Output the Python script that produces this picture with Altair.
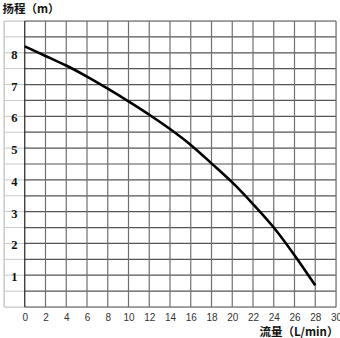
import altair as alt
import pandas as pd

# Data
flow = [0, 2, 4, 6, 8, 10, 12, 14, 16, 18, 20, 22, 24, 26, 28]
head = [8.2, 7.9, 7.6, 7.25, 6.87, 6.47, 6.05, 5.6, 5.1, 4.52, 3.92, 3.24, 2.5, 1.63, 0.68]

x_ticks = [0, 2, 4, 6, 8, 10, 12, 14, 16, 18, 20, 22, 24, 26, 28, 30]
y_labels = [1, 2, 3, 4, 5, 6, 7, 8]
h_levels = [0, 0.5, 1, 1.5, 2, 2.5, 3, 3.5, 4, 4.5, 5, 5.5, 6, 6.5, 7, 7.5, 8, 8.5, 9]

X_MIN, X_MAX = -2, 30
Y_MIN, Y_MAX = 0, 9

xs = alt.Scale(domain=[X_MIN, X_MAX], nice=False, zero=False)
ys = alt.Scale(domain=[Y_MIN, Y_MAX], nice=False, zero=False)

x_axis = alt.Axis(values=x_ticks, grid=False, domain=False, ticks=False,
                  labelFont="Liberation Sans", labelFontSize=10, labelColor="#333333",
                  labelPadding=5, labelFlush=False, labelOverlap=False,
                  title="流量（L/min）", titleFont="Noto Sans CJK SC",
                  titleFontSize=11.5, titleFontWeight="bold", titleColor="#111111",
                  titleAnchor="end", titleAlign="right", titleX=334, titleY=25,
                  titleBaseline="middle")

curve_df = pd.DataFrame({"flow": flow, "head": head})
hdf = pd.DataFrame({"y": h_levels, "x0": [X_MIN] * len(h_levels),
                    "xa": [0] * len(h_levels), "x1": [X_MAX] * len(h_levels)})
vdf = pd.DataFrame({"x": x_ticks[1:], "y0": [Y_MIN] * (len(x_ticks) - 1),
                    "y1": [Y_MAX] * (len(x_ticks) - 1)})
ldf = pd.DataFrame({"v": y_labels, "x": [-1] * len(y_labels)})
bdf = pd.DataFrame({"x": [X_MIN, 0], "y0": [Y_MIN, Y_MIN], "y1": [Y_MAX, Y_MAX],
                    "c": ["#c8c8c8", "#222222"]})

h_left = alt.Chart(hdf).mark_rule(color="#c8c8c8", strokeWidth=1).encode(
    x=alt.X("x0:Q", scale=xs, axis=x_axis), x2="xa:Q", y=alt.Y("y:Q", scale=ys, axis=None))
h_right = alt.Chart(hdf).mark_rule(color="#555555", strokeWidth=1.2).encode(
    x=alt.X("xa:Q", scale=xs, axis=x_axis), x2="x1:Q", y=alt.Y("y:Q", scale=ys, axis=None))
v_grid = alt.Chart(vdf).mark_rule(color="#707070", strokeWidth=1.2).encode(
    x=alt.X("x:Q", scale=xs, axis=x_axis), y=alt.Y("y0:Q", scale=ys, axis=None), y2="y1:Q")
borders = alt.Chart(bdf).mark_rule(strokeWidth=1.2).encode(
    x=alt.X("x:Q", scale=xs, axis=x_axis), y=alt.Y("y0:Q", scale=ys, axis=None), y2="y1:Q",
    color=alt.Color("c:N", scale=None))

curve = alt.Chart(curve_df).mark_line(color="#000000", strokeWidth=2.6, interpolate="monotone").encode(
    x=alt.X("flow:Q", scale=xs, axis=x_axis),
    y=alt.Y("head:Q", scale=ys, axis=None))

ylab = alt.Chart(ldf).mark_text(font="Liberation Serif", fontSize=12.5, fontWeight="bold",
                                color="#111111", dy=2).encode(
    x=alt.X("x:Q", scale=xs, axis=x_axis), y=alt.Y("v:Q", scale=ys, axis=None), text="v:Q")

chart = alt.layer(h_left, h_right, v_grid, borders, curve, ylab).properties(
    width=332, height=286,
    padding={"left": 4, "top": 21, "right": 4, "bottom": 31},
    autosize=alt.AutoSizeParams(type="none"),
    title=alt.TitleParams("扬程（m）", anchor="start", font="Noto Sans CJK SC", fontSize=11.5,
                          fontWeight="bold", color="#111111", offset=5, dx=-1),
).configure_view(stroke=None).configure(background="white")

chart.save("out.html", embed_options={"renderer": "svg", "actions": False})
